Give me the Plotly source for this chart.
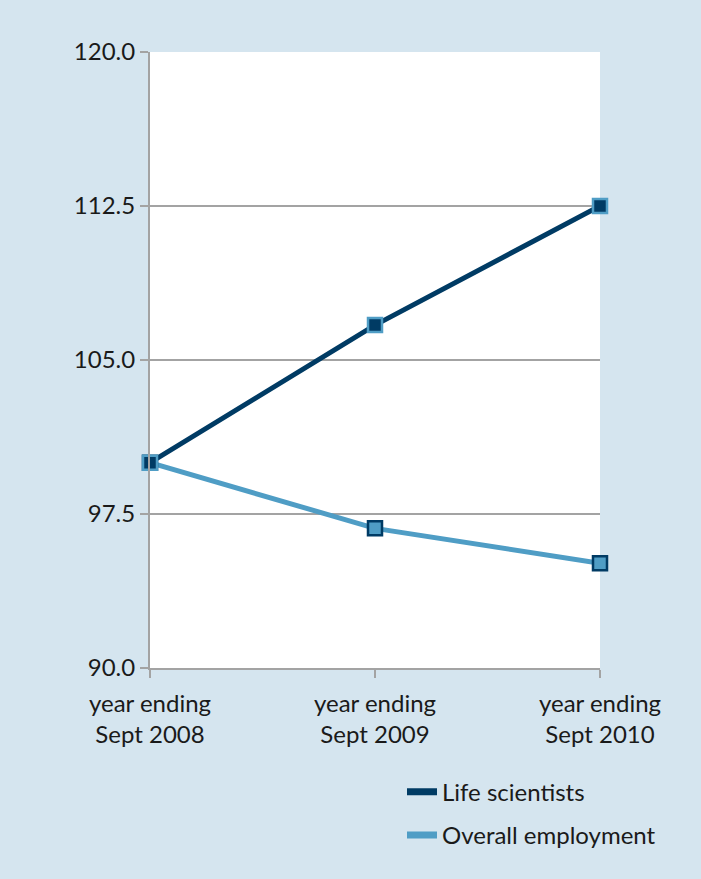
import plotly.graph_objects as go

categories = ["year ending<br>Sept 2008", "year ending<br>Sept 2009", "year ending<br>Sept 2010"]
life_scientists = [100.0, 106.7, 112.5]
overall_employment = [100.0, 96.8, 95.1]
y_ticks = [90.0, 97.5, 105.0, 112.5, 120.0]

DARK = "#003b64"
LIGHT = "#4f9dc5"
BG = "#d5e5ef"
GRID = "#a3a3a3"
FONT = "Lato, 'Open Sans', sans-serif"

x = list(range(len(categories)))

fig = go.Figure()
fig.add_trace(go.Scatter(
    x=x, y=overall_employment, mode="lines+markers", showlegend=False,
    line=dict(color=LIGHT, width=5),
    marker=dict(symbol="square", size=14, color=LIGHT, line=dict(color=DARK, width=2.5)),
    cliponaxis=False,
))
fig.add_trace(go.Scatter(
    x=x, y=life_scientists, mode="lines+markers", showlegend=False,
    line=dict(color=DARK, width=5),
    marker=dict(symbol="square", size=14, color=DARK, line=dict(color=LIGHT, width=2.5)),
    cliponaxis=False,
))
# legend entries
fig.add_trace(go.Scatter(x=[None], y=[None], mode="lines", name="Life scientists",
                         legendgroup="a", line=dict(color=DARK, width=7)))
fig.add_trace(go.Scatter(x=[None], y=[None], mode="lines", name="Overall employment",
                         legendgroup="b", line=dict(color=LIGHT, width=7)))

fig.update_layout(
    width=701, height=879,
    margin=dict(l=150, r=101, t=52, b=211),
    paper_bgcolor=BG, plot_bgcolor="white",
    font=dict(family=FONT, size=24, color="#1a1a1a"),
    xaxis=dict(
        range=[0, 2], tickmode="array", tickvals=x, ticktext=categories,
        showgrid=False, zeroline=False, showline=True, linecolor=GRID, linewidth=2,
        ticks="outside", ticklen=8, tickcolor=GRID, tickwidth=2,
        tickfont=dict(size=24), ticklabelstandoff=5,
    ),
    yaxis=dict(
        range=[90, 120], tickmode="array", tickvals=y_ticks,
        ticktext=[f"{v:.1f}" for v in y_ticks],
        showgrid=True, gridcolor=GRID, gridwidth=2, zeroline=False,
        showline=True, linecolor=GRID, linewidth=2,
        ticks="outside", ticklen=8, tickcolor=GRID, tickwidth=2,
        tickfont=dict(size=24),
    ),
    legend=dict(
        x=0.56, y=-0.165, xanchor="left", yanchor="top",
        bgcolor="rgba(0,0,0,0)", font=dict(size=24),
        tracegroupgap=9, itemwidth=30,
    ),
)

fig.write_html("out.html")
